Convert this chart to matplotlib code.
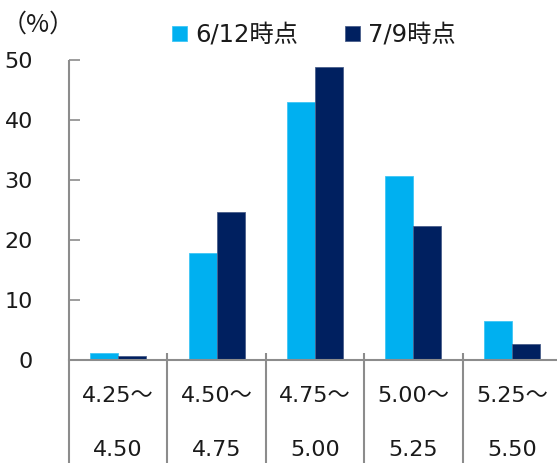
import matplotlib
matplotlib.use("Agg")
import matplotlib.pyplot as plt
import numpy as np

categories_top = ["4.25～", "4.50～", "4.75～", "5.00～", "5.25～"]
categories_bottom = ["4.50", "4.75", "5.00", "5.25", "5.50"]
series_names = ["6/12時点", "7/9時点"]
values_0612 = [1.2, 17.8, 43.0, 30.7, 6.5]
values_0709 = [0.7, 24.7, 48.9, 22.3, 2.7]
colors = ["#00B0F0", "#002060"]
yticks = [0, 10, 20, 30, 40, 50]

plt.rcParams['font.family'] = ['DejaVu Sans', 'Noto Sans CJK JP']
FS = 16
TXT = "#1a1a1a"
GRAY = "#8c8c8c"

fig = plt.figure(figsize=(5.57, 4.63), dpi=100)
W, H = 557, 463
left_px, right_px = 69, 69 + 5 * 98.4
top_px, bottom_px = 60, 360
ax = fig.add_axes([left_px / W, (H - bottom_px) / H, (right_px - left_px) / W, (bottom_px - top_px) / H])

x = np.arange(len(categories_top))
bw = 0.285
ax.bar(x - bw, values_0612, width=bw, align='edge', color=colors[0], edgecolor="#3fc6f5", linewidth=0.6, label=series_names[0])
ax.bar(x, values_0709, width=bw, align='edge', color=colors[1], edgecolor="#4a5f8a", linewidth=0.6, label=series_names[1])

ax.set_xlim(-0.5, 4.5)
ax.set_ylim(0, 50)
ax.set_yticks(yticks)
ax.set_yticklabels([str(v) for v in yticks], fontsize=FS, color=TXT)
ax.tick_params(axis='y', direction='in', length=8, width=1.2, color=GRAY, pad=26)
for lab in ax.get_yticklabels():
    lab.set_horizontalalignment('right')
ax.set_xticks([])

for s in ['top', 'right', 'left']:
    ax.spines[s].set_visible(False)
ax.spines['bottom'].set_color(GRAY)
ax.spines['bottom'].set_linewidth(1.5)

# category separators (table-like x axis)
span = bottom_px - top_px
for i, b in enumerate(np.arange(-0.5, 5.0, 1.0)):
    y0 = 1.0 if i == 0 else 7 / span
    y1 = -(H - bottom_px) / span
    ax.plot([b, b], [y1, y0], transform=ax.get_xaxis_transform(), color=GRAY, lw=1.5,
            clip_on=False, solid_capstyle='butt')

trans = ax.get_xaxis_transform()
for i in range(len(categories_top)):
    ax.text(x[i], -(396 - bottom_px) / span, categories_top[i], transform=trans,
            ha='center', va='center', fontsize=FS, color=TXT)
    ax.text(x[i], -(450 - bottom_px) / span, categories_bottom[i], transform=trans,
            ha='center', va='center', fontsize=FS, color=TXT)

fig.text(2 / W, 1 - 25 / H, "（%）", ha='left', va='center', fontsize=18, color=TXT,
         family=['Noto Sans CJK JP', 'DejaVu Sans'])

leg = fig.legend(loc='center', bbox_to_anchor=(314 / W, 1 - 35 / H), ncol=2, frameon=False,
                 fontsize=17.5, handlelength=0.62, handleheight=0.62, handletextpad=0.35,
                 columnspacing=1.9, labelcolor=TXT)

fig.savefig("out.png", dpi=100)
